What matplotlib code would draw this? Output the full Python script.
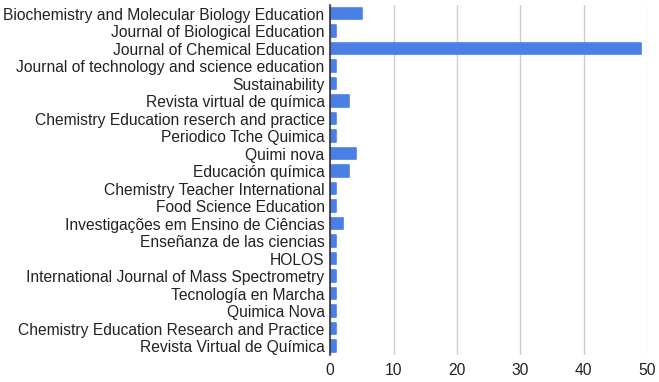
import matplotlib.pyplot as plt

journals = [
    "Biochemistry and Molecular Biology Education",
    "Journal of Biological Education",
    "Journal of Chemical Education",
    "Journal of technology and science education",
    "Sustainability",
    "Revista virtual de química",
    "Chemistry Education reserch and practice",
    "Periodico Tche Quimica",
    "Quimi nova",
    "Educación química",
    "Chemistry Teacher International",
    "Food Science Education",
    "Investigações em Ensino de Ciências",
    "Enseñanza de las ciencias",
    "HOLOS",
    "International Journal of Mass Spectrometry",
    "Tecnología en Marcha",
    "Quimica Nova",
    "Chemistry Education Research and Practice",
    "Revista Virtual de Química",
]
counts = [5, 1, 49, 1, 1, 3, 1, 1, 4, 3, 1, 1, 2, 1, 1, 1, 1, 1, 1, 1]
xticks = [0, 10, 20, 30, 40, 50]

plt.rcParams['font.family'] = ['Liberation Sans', 'DejaVu Sans']

fig = plt.figure(figsize=(6.59, 3.82), dpi=100)
ax = fig.add_axes([0.501, 0.071, 0.481, 0.916])

pos = list(range(len(journals)))
ax.barh(pos, counts, height=0.66, color='#4a7fe6', edgecolor='#4a7fe6',
        linewidth=1.2, joinstyle='round', zorder=3)

ax.set_yticks(pos)
ax.set_yticklabels(journals, fontsize=11.25, color='#222222')
ax.set_ylim(len(journals) - 0.5, -0.5)
ax.set_xlim(0, 50)
ax.set_xticks(xticks)
ax.set_xticklabels([str(t) for t in xticks], fontsize=11.25, color='#222222')
ax.tick_params(length=0, pad=4)
ax.tick_params(axis='x', pad=6)
ax.grid(axis='x', color='#cccccc', linewidth=1, zorder=0)
for s in ['top', 'right', 'bottom']:
    ax.spines[s].set_visible(False)
ax.spines['left'].set_color('#333333')
ax.spines['left'].set_linewidth(1.2)
ax.spines['left'].set_zorder(4)

plt.savefig("out.png", dpi=100)
